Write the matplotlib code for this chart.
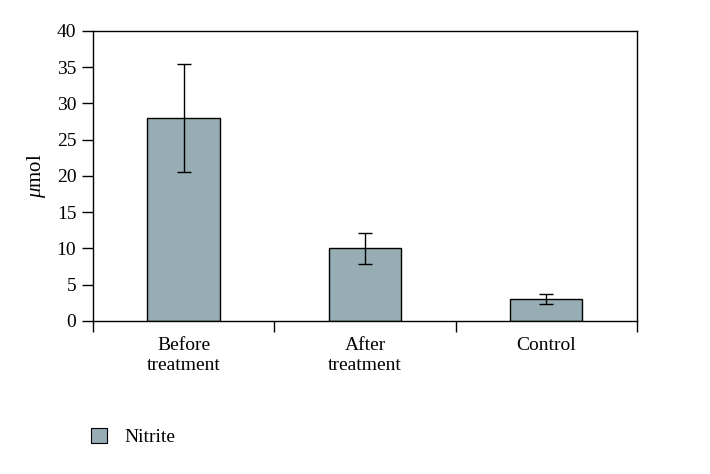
import matplotlib
matplotlib.use('Agg')
import matplotlib.pyplot as plt
from matplotlib.patches import Patch

plt.rcParams['font.family'] = ['Liberation Serif', 'DejaVu Serif']
plt.rcParams['mathtext.fontset'] = 'custom'
plt.rcParams['mathtext.it'] = 'Liberation Serif:italic'

categories = ['Before\ntreatment', 'After\ntreatment', 'Control']
nitrite = [28.0, 10.0, 3.0]
errors = [7.4, 2.1, 0.7]
yticks = [0, 5, 10, 15, 20, 25, 30, 35, 40]

fig = plt.figure(figsize=(7.1, 4.74), dpi=100)
ax = fig.add_axes([0.131, 0.3228, 0.766, 0.612])

x = range(len(categories))
ax.bar(x, nitrite, width=0.4, color='#96adb3', edgecolor='black', linewidth=1,
       yerr=errors, capsize=4.7, error_kw={'elinewidth': 1, 'capthick': 1, 'ecolor': 'black'})

ax.set_xlim(-0.5, 2.5)
ax.set_ylim(0, 40)
ax.set_yticks(yticks)
ax.set_yticklabels([str(v) for v in yticks], fontsize=14)
ax.tick_params(axis='y', length=8, width=1, pad=4)

# category tick marks sit between the bars
ax.set_xticks([-0.5, 0.5, 1.5, 2.5])
ax.set_xticklabels([])
ax.tick_params(axis='x', length=8, width=1)
for i, lab in enumerate(categories):
    ax.text(i, -2.2, lab, ha='center', va='top', fontsize=14, linespacing=1.2)

for s in ax.spines.values():
    s.set_linewidth(1)

ax.set_ylabel(r'$\mu$mol', fontsize=15, labelpad=6)

fig.legend(handles=[Patch(facecolor='#96adb3', edgecolor='black', linewidth=0.8, label='Nitrite')],
           loc='upper left', bbox_to_anchor=(0.104, 0.135), frameon=False, fontsize=14,
           handlelength=0.82, handleheight=0.82, handletextpad=0.9)

fig.savefig('out.png', dpi=100)
